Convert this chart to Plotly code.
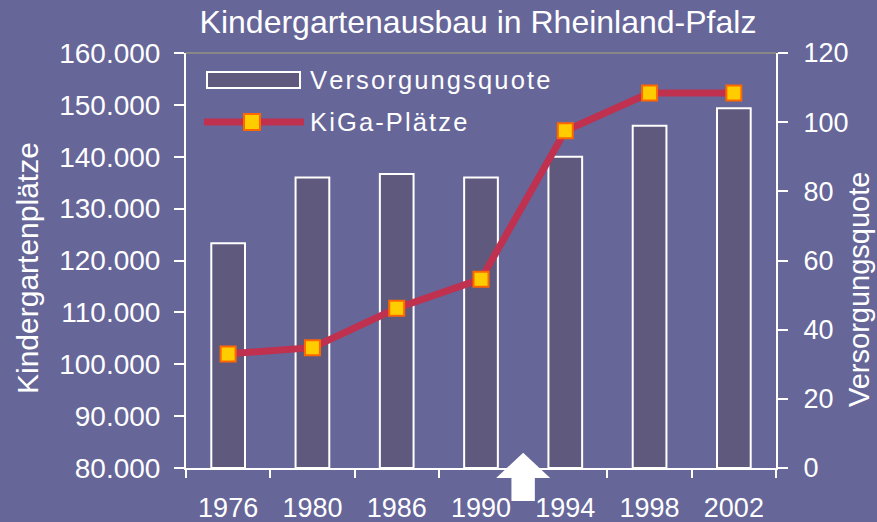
import plotly.graph_objects as go

years = ["1976", "1980", "1986", "1990", "1994", "1998", "2002"]
quote = [65, 84, 85, 84, 90, 99, 104]                      # Versorgungsquote (right axis)
plaetze = [102000, 103200, 110800, 116400, 145000, 152300, 152300]  # KiGa-Plätze (left axis)

BG = "#666699"
BAR = "#5f5a7d"
LINE = "#c0304f"
FONT = "Liberation Sans, Arial, sans-serif"

fig = go.Figure()
fig.add_trace(go.Bar(
    x=years, y=quote, name="Versorgungsquote", yaxis="y",
    width=0.4, marker=dict(color=BAR, line=dict(color="white", width=2)),
    showlegend=False,
))
fig.add_trace(go.Scatter(
    x=years, y=plaetze, name="KiGa-Plätze", yaxis="y2", mode="lines+markers",
    line=dict(color=LINE, width=7),
    marker=dict(symbol="square", size=15, color="#ffcc00", line=dict(color="#ff6600", width=2)),
    showlegend=False,
))

L, R, T, B = 186, 101, 53, 54
W, H = 877, 522
pw, ph = W - L - R, H - T - B

def px(xp):
    return (xp - L) / pw

def py(yp):
    return (H - B - yp) / ph

HS = "\u200a"
shapes = []
annotations = []
# gray top border
shapes.append(dict(type="line", xref="paper", yref="paper", x0=0, x1=1, y0=1, y1=1,
                   line=dict(color="#888888", width=2)))
# legend: bar sample
shapes.append(dict(type="rect", xref="paper", yref="paper", x0=px(207), x1=px(300), y0=py(88), y1=py(72),
                   fillcolor=BAR, line=dict(color="white", width=2)))
annotations.append(dict(text=HS.join("Versorgungsquote"), xref="paper", yref="paper",
                        x=px(308), y=py(80), xanchor="left", yanchor="middle", showarrow=False,
                        font=dict(size=25.5, color="white", family=FONT)))
# legend: line sample
shapes.append(dict(type="line", xref="paper", yref="paper", x0=px(204), x1=px(304), y0=py(122), y1=py(122),
                   line=dict(color=LINE, width=7)))
shapes.append(dict(type="rect", xref="paper", yref="paper", x0=px(244), x1=px(260), y0=py(130), y1=py(114),
                   fillcolor="#ffcc00", line=dict(color="#ff6600", width=2)))
annotations.append(dict(text=HS.join("KiGa-Plätze"), xref="paper", yref="paper",
                        x=px(308), y=py(122), xanchor="left", yanchor="middle", showarrow=False,
                        font=dict(size=25.5, color="white", family=FONT)))
# arrow between 1990 and 1994
n = len(years)
cx = (3.5 + 0.5) / n
hw, sw = 27 / pw, 11.7 / pw
tip, hb, sb = py(452.7), py(478), py(501)
path = (f"M {cx} {tip} L {cx+hw} {hb} L {cx+sw} {hb} L {cx+sw} {sb} "
        f"L {cx-sw} {sb} L {cx-sw} {hb} L {cx-hw} {hb} Z")
shapes.append(dict(type="path", xref="paper", yref="paper", path=path,
                   fillcolor="white", line=dict(color="white", width=0)))
# axis titles
annotations.append(dict(text="Kindergartenplätze", xref="paper", yref="paper", x=px(27), y=py(268),
                        textangle=-90, showarrow=False, xanchor="center", yanchor="middle",
                        font=dict(size=30, color="white", family=FONT)))
annotations.append(dict(text="Versorgungsquote", xref="paper", yref="paper", x=px(859), y=py(289),
                        textangle=-90, showarrow=False, xanchor="center", yanchor="middle",
                        font=dict(size=29, color="white", family=FONT)))

fig.update_layout(
    width=W, height=H,
    margin=dict(l=L, r=R, t=T, b=B, autoexpand=False),
    paper_bgcolor=BG, plot_bgcolor=BG,
    separators=",.",
    font=dict(family=FONT, color="white", size=27),
    title=dict(text="Kindergartenausbau in Rheinland-Pfalz", x=478 / W, xanchor="center", xref="container",
               y=1 - 22 / H, yanchor="middle", yref="container",
               font=dict(size=32, color="white", family=FONT)),
    xaxis=dict(type="category", showline=True, linecolor="white", linewidth=2,
               ticks="outside", tickson="boundaries", ticklen=8, tickwidth=2, tickcolor="white",
               tickfont=dict(size=27, color="white"), showgrid=False, zeroline=False,
               ticklabelstandoff=15),
    yaxis=dict(side="right", range=[0, 120], dtick=20, showline=True, linecolor="white", linewidth=2,
               ticks="outside", ticklen=10, tickwidth=2, tickcolor="white",
               tickfont=dict(size=27, color="white"), showgrid=False, zeroline=False,
               ticklabelstandoff=10),
    yaxis2=dict(side="left", overlaying="y", range=[80000, 160000], dtick=10000, tickformat=",d",
                showline=True, linecolor="white", linewidth=2,
                ticks="outside", ticklen=10, tickwidth=2, tickcolor="white",
                tickfont=dict(size=28, color="white"), showgrid=False, zeroline=False,
                ticklabelstandoff=8),
    bargap=0.6,
    shapes=shapes, annotations=annotations,
)

fig.write_html("out.html", config={"displayModeBar": False},
               post_script="document.body.style.margin='0';document.body.style.overflow='hidden';")
